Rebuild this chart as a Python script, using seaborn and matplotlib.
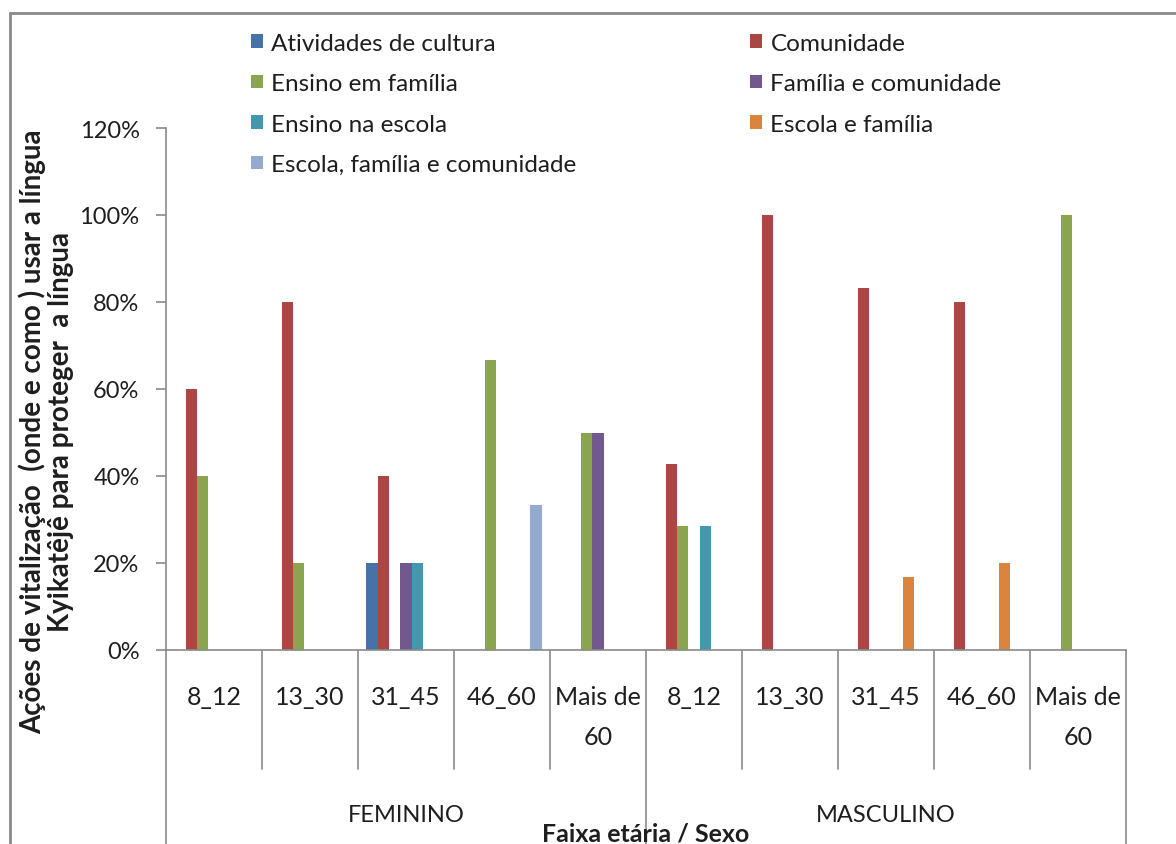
import matplotlib
matplotlib.use("Agg")
import matplotlib.pyplot as plt
import matplotlib.transforms as mtransforms
from matplotlib.lines import Line2D
from matplotlib.patches import Patch
from matplotlib.ticker import FuncFormatter
import seaborn as sns
import pandas as pd

# ---- data -------------------------------------------------------------
sexes = ["FEMININO", "MASCULINO"]
ages = ["8_12", "13_30", "31_45", "46_60", "Mais de\n60"]

series = [
    "Atividades de cultura",
    "Comunidade",
    "Ensino em família",
    "Família e comunidade",
    "Ensino na escola",
    "Escola e família",
    "Escola, família e comunidade",
]

# values per group: FEMININO (5 age bands) then MASCULINO (5 age bands)
atividades_cultura = [0, 0, 0.20, 0, 0, 0, 0, 0, 0, 0]
comunidade = [0.60, 0.80, 0.40, 0, 0, 0.4286, 1.00, 0.8333, 0.80, 0]
ensino_familia = [0.40, 0.20, 0, 0.6667, 0.50, 0.2857, 0, 0, 0, 1.00]
familia_comunidade = [0, 0, 0.20, 0, 0.50, 0, 0, 0, 0, 0]
ensino_escola = [0, 0, 0.20, 0, 0, 0.2857, 0, 0, 0, 0]
escola_familia = [0, 0, 0, 0, 0, 0, 0, 0.1667, 0.20, 0]
escola_familia_comunidade = [0, 0, 0, 0.3333, 0, 0, 0, 0, 0, 0]

values = [atividades_cultura, comunidade, ensino_familia, familia_comunidade,
          ensino_escola, escola_familia, escola_familia_comunidade]

colors = ["#4572A7", "#AA4643", "#89A54E", "#71588F",
          "#4198AF", "#DB843D", "#93A9CF"]

categories = [f"{s}|{a}" for s in sexes for a in ages]
rows = []
for name, vals in zip(series, values):
    for cat, v in zip(categories, vals):
        rows.append({"cat": cat, "serie": name, "valor": v})
df = pd.DataFrame(rows)

# ---- figure -----------------------------------------------------------
sns.set_theme(style="white")
plt.rcParams["font.family"] = ["Lato", "DejaVu Sans"]
text_color = "#1e1e1e"
grid_gray = "#8a8a8a"

W, H = 1176, 845
fig = plt.figure(figsize=(W / 100, H / 100), dpi=100)
ax = fig.add_axes([166 / W, 1 - 651 / H, (1126 - 166) / W, (651 - 129) / H])

sns.barplot(data=df, x="cat", y="valor", hue="serie", order=categories,
            hue_order=series, palette=colors, width=7 / 8.5,
            errorbar=None, linewidth=0, saturation=1, ax=ax, legend=False)

ax.set_xlim(-0.5, len(categories) - 0.5)
ax.set_ylim(0, 1.2)
ax.set_yticks([0, 0.2, 0.4, 0.6, 0.8, 1.0, 1.2])
ax.yaxis.set_major_formatter(FuncFormatter(lambda v, _: f"{v * 100:.0f}%"))
ax.set_xlabel("")
ax.set_ylabel("")

for side in ["top", "right"]:
    ax.spines[side].set_visible(False)
for side in ["left", "bottom"]:
    ax.spines[side].set_color(grid_gray)
    ax.spines[side].set_linewidth(1.2)

ax.tick_params(axis="y", which="major", left=True, length=7, width=1.2,
               color=grid_gray, pad=12, labelsize=17, labelcolor=text_color)
ax.set_xticks(range(len(categories)))
ax.set_xticklabels([a for s in sexes for a in ages], linespacing=1.9)
ax.tick_params(axis="x", length=0, pad=25, labelsize=18, labelcolor=text_color)

# category separators below the axis (multi-level axis)
y0 = 1 - 651 / H
y_short = 1 - 770 / H
trans = mtransforms.blended_transform_factory(ax.transData, fig.transFigure)
n = len(categories)
for i in range(n + 1):
    xb = i - 0.5
    long = i % len(ages) == 0
    ax.add_line(Line2D([xb, xb], [y0, 0 if long else y_short], transform=trans,
                       color=grid_gray, linewidth=1.2, clip_on=False))

# group labels
for gi, s in enumerate(sexes):
    xc = gi * len(ages) + (len(ages) - 1) / 2
    ax.text(xc, 1 - 816 / H, s, transform=trans, ha="center", va="center",
            fontsize=17, color=text_color)

# axis titles
fig.text(646 / W, 1 - 834 / H, "Faixa etária / Sexo", ha="center", va="center",
         fontsize=18, fontweight="bold", color=text_color)
fig.text(46 / W, 1 - 432 / H,
         "Ações de vitalização  (onde e como ) usar a língua\nKyikatêjê para proteger  a língua",
         rotation=90, ha="center", va="center", multialignment="center",
         fontsize=20, fontweight="bold", color=text_color, linespacing=1.08)

# legend in two columns, filled row by row
handles = [Patch(facecolor=c, edgecolor="none") for c in colors]
leg_kw = dict(frameon=False, fontsize=17.5, handlelength=0.5, handleheight=0.5,
              handletextpad=0.35, labelspacing=0.8, borderaxespad=0,
              labelcolor=text_color)
left_idx = [0, 2, 4, 6]
right_idx = [1, 3, 5]
fig.legend([handles[i] for i in left_idx], [series[i] for i in left_idx],
           loc="upper left", bbox_to_anchor=(241 / W, 1 - 24 / H), **leg_kw)
fig.legend([handles[i] for i in right_idx], [series[i] for i in right_idx],
           loc="upper left", bbox_to_anchor=(740 / W, 1 - 24 / H), **leg_kw)

# outer border (top and left edges)
fig.add_artist(Line2D([10 / W, 1], [1 - 14 / H, 1 - 14 / H], transform=fig.transFigure,
                      color=grid_gray, linewidth=2))
fig.add_artist(Line2D([10 / W, 10 / W], [0, 1 - 14 / H], transform=fig.transFigure,
                      color=grid_gray, linewidth=2))

fig.savefig("out.png", dpi=100, facecolor="white")
